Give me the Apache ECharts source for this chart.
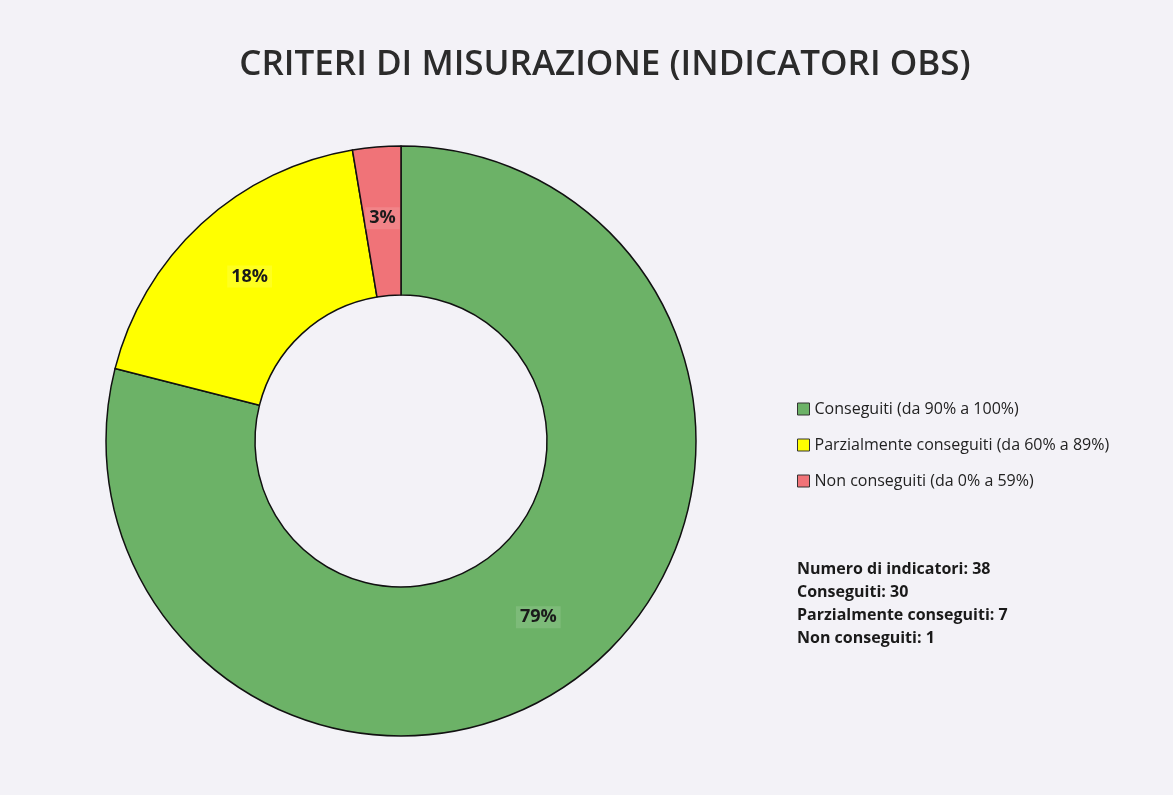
<!DOCTYPE html>
<html>
<head>
<meta charset="utf-8">
<script src="https://cdn.jsdelivr.net/npm/echarts@6/dist/echarts.min.js"></script>
<style>
  html, body { margin: 0; padding: 0; background: #f3f2f7; }
  #chart { width: 1173px; height: 795px; }
</style>
</head>
<body>
<div id="chart"></div>
<script>
  // dati
  var categories = ['Conseguiti (da 90% a 100%)', 'Parzialmente conseguiti (da 60% a 89%)', 'Non conseguiti (da 0% a 59%)'];
  var shortNames = ['Conseguiti', 'Parzialmente conseguiti', 'Non conseguiti'];
  var counts = [30, 7, 1];
  var colors = ['#6cb267', '#ffff00', '#f07378'];

  var total = counts.reduce(function (a, b) { return a + b; }, 0);
  var statsText = 'Numero di indicatori: ' + total;
  shortNames.forEach(function (n, i) {
    statsText += '\n' + n + ': ' + counts[i];
  });

  var chart = echarts.init(document.getElementById('chart'));
  var font = '"Open Sans", "Noto Sans", sans-serif';

  chart.setOption({
    backgroundColor: '#f3f2f7',
    color: colors,
    title: [
      {
        text: 'CRITERI DI MISURAZIONE (INDICATORI OBS)',
        left: 600,
        textAlign: 'center',
        top: 43,
        textStyle: {
          fontFamily: font,
          fontSize: 35,
          fontWeight: 600,
          color: '#2b2b2b'
        }
      },
      {
        text: statsText,
        left: 792,
        top: 553,
        textStyle: {
          fontFamily: font,
          fontSize: 16,
          fontWeight: 'bold',
          lineHeight: 23,
          color: '#1a1a1a'
        }
      }
    ],
    legend: {
      orient: 'vertical',
      left: 792,
      top: 393,
      itemWidth: 12,
      itemHeight: 12,
      itemGap: 14,
      icon: 'rect',
      itemStyle: {
        borderColor: '#333',
        borderWidth: 1
      },
      textStyle: {
        fontFamily: font,
        fontSize: 16,
        lineHeight: 22,
        color: '#222'
      },
      data: categories
    },
    series: [
      {
        name: 'Indicatori',
        type: 'pie',
        center: [401, 441],
        radius: [146, 295],
        startAngle: 90,
        clockwise: true,
        avoidLabelOverlap: false,
        silent: true,
        itemStyle: {
          borderColor: '#111',
          borderWidth: 1.5
        },
        label: {
          show: true,
          position: 'inside',
          formatter: function (p) {
            return Math.round(p.value / total * 100) + '%';
          },
          fontFamily: font,
          fontSize: 18,
          fontWeight: 'bold',
          color: '#1a1a1a',
          padding: [2, 4],
          backgroundColor: 'rgba(255,255,255,0.12)'
        },
        labelLine: { show: false },
        data: categories.map(function (c, i) {
          return { name: c, value: counts[i] };
        })
      }
    ]
  });
</script>
</body>
</html>
